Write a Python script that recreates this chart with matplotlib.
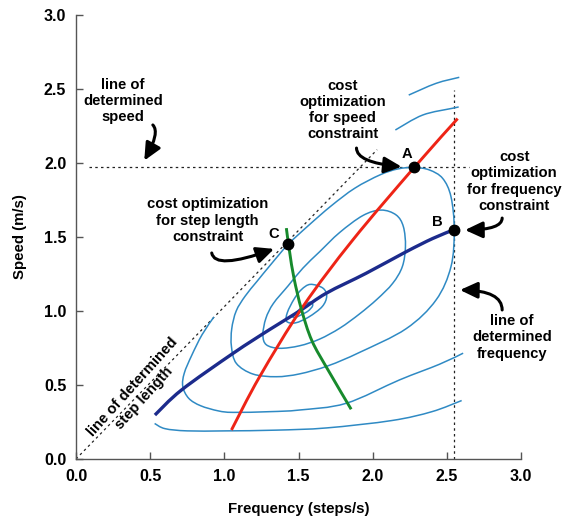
import matplotlib
matplotlib.use("Agg")
import matplotlib.pyplot as plt
import numpy as np
from matplotlib.path import Path
from matplotlib.patches import PathPatch

plt.rcParams['font.family'] = ['Liberation Sans', 'DejaVu Sans']
plt.rcParams['font.weight'] = 'bold'

# ---------------- data ----------------
# iso-cost contours (closed)
cont_a_x = [1.46, 1.50, 1.545, 1.585, 1.595, 1.565, 1.52, 1.48]
cont_a_y = [0.965, 1.005, 1.045, 1.06, 1.035, 1.00, 0.975, 0.958]

cont_b_x = [1.58, 1.664, 1.69, 1.66, 1.57, 1.48, 1.42, 1.425, 1.47, 1.52]
cont_b_y = [1.18, 1.155, 1.10, 1.03, 0.96, 0.92, 0.93, 0.99, 1.08, 1.145]

cont_c_x = [2.057, 2.158, 2.207, 2.221, 2.20, 2.135, 2.03, 1.911, 1.78, 1.642, 1.507, 1.373,
            1.283, 1.260, 1.28, 1.33, 1.43, 1.53, 1.642, 1.777, 1.934]
cont_c_y = [1.682, 1.649, 1.57, 1.435, 1.30, 1.187, 1.08, 0.98, 0.885, 0.81, 0.765, 0.748,
            0.772, 0.84, 0.95, 1.05, 1.17, 1.29, 1.40, 1.53, 1.645]

cont_d_x = [2.28, 2.382, 2.472, 2.528, 2.55, 2.528, 2.427, 2.225, 1.911, 1.70, 1.507, 1.350,
            1.193, 1.081, 1.048, 1.05, 1.08, 1.14, 1.22, 1.31, 1.43, 1.57, 1.72, 1.88, 2.05, 2.17]
cont_d_y = [1.97, 1.953, 1.896, 1.772, 1.55, 1.30, 1.074, 0.88, 0.72, 0.63, 0.575, 0.556,
            0.574, 0.646, 0.759, 0.88, 1.00, 1.10, 1.20, 1.31, 1.45, 1.58, 1.71, 1.83, 1.92, 1.96]

# open contour pieces
cont_e_low_x = [0.93, 0.85, 0.78, 0.73, 0.72, 0.76, 0.84, 0.96, 1.06, 1.31, 1.507, 1.82, 2.18, 2.45, 2.61]
cont_e_low_y = [0.96, 0.84, 0.70, 0.58, 0.49, 0.41, 0.36, 0.325, 0.315, 0.32, 0.331, 0.376, 0.534, 0.64, 0.715]
cont_e_top_x = [2.153, 2.337, 2.539, 2.58]
cont_e_top_y = [2.223, 2.324, 2.37, 2.378]

cont_f_low_x = [0.53, 0.60, 0.75, 1.01, 1.35, 1.69, 2.13, 2.40, 2.60]
cont_f_low_y = [0.24, 0.205, 0.19, 0.19, 0.195, 0.21, 0.26, 0.32, 0.395]
cont_f_top_x = [2.243, 2.427, 2.584]
cont_f_top_y = [2.459, 2.538, 2.579]

# optimal-parameter curves
red_x = [1.048, 1.238, 1.53, 1.866, 2.28, 2.573]
red_y = [0.196, 0.556, 1.03, 1.48, 1.97, 2.30]

navy_x = [0.532, 0.711, 1.059, 1.306, 1.507, 1.687, 1.956, 2.225, 2.405, 2.55]
navy_y = [0.297, 0.466, 0.714, 0.875, 1.00, 1.12, 1.255, 1.40, 1.49, 1.55]

green_x = [1.418, 1.44, 1.47, 1.52, 1.59, 1.70, 1.855]
green_y = [1.56, 1.40, 1.22, 1.01, 0.80, 0.60, 0.336]

# constraint lines
speed_level = 1.97
freq_level = 2.55
step_x = [0.0, 2.03]
step_y = [0.0, 2.09]

# optimum points
pt_names = ['A', 'B', 'C']
pt_x = [2.28, 2.55, 1.43]
pt_y = [1.97, 1.55, 1.45]

ticks = [0.0, 0.5, 1.0, 1.5, 2.0, 2.5, 3.0]
tick_labels = ['0.0', '0.5', '1.0', '1.5', '2.0', '2.5', '3.0']

# ---------------- drawing ----------------
def smooth_path(xs, ys, closed=False):
    P = np.column_stack([xs, ys]).astype(float)
    n = len(P)
    verts = [P[0]]
    codes = [Path.MOVETO]
    segs = n if closed else n - 1
    for i in range(segs):
        if closed:
            p0, p1, p2, p3 = P[(i - 1) % n], P[i], P[(i + 1) % n], P[(i + 2) % n]
        else:
            p0 = P[i - 1] if i > 0 else P[i]
            p1 = P[i]
            p2 = P[i + 1]
            p3 = P[i + 2] if i + 2 < n else P[i + 1]
        c1 = p1 + (p2 - p0) / 6.0
        c2 = p2 - (p3 - p1) / 6.0
        verts += [c1, c2, p2]
        codes += [Path.CURVE4] * 3
    return Path(verts, codes)

fig = plt.figure(figsize=(5.7, 5.18), dpi=100)
ax = fig.add_axes([76/570, 59/518, 445/570, 444/518])

def draw(xs, ys, color, lw, closed=False, z=2):
    patch = PathPatch(smooth_path(xs, ys, closed), facecolor='none', edgecolor=color,
                      lw=lw, zorder=z, capstyle='butt')
    ax.add_patch(patch)

cblue = '#2f8ac4'
for xs, ys, cl in [(cont_a_x, cont_a_y, True), (cont_b_x, cont_b_y, True),
                   (cont_c_x, cont_c_y, True), (cont_d_x, cont_d_y, True),
                   (cont_e_low_x, cont_e_low_y, False), (cont_e_top_x, cont_e_top_y, False),
                   (cont_f_low_x, cont_f_low_y, False), (cont_f_top_x, cont_f_top_y, False)]:
    draw(xs, ys, cblue, 1.1, cl)

draw(navy_x, navy_y, '#1c2b8c', 2.4, z=3)
draw(red_x, red_y, '#ee2416', 2.1, z=4)
draw(green_x, green_y, '#178a2c', 2.1, z=4)

dot = dict(color='#222222', lw=0.9, ls=(0, (2, 2.6)), zorder=1)
ax.plot([0.09, 2.65], [speed_level, speed_level], **dot)
ax.plot([freq_level, freq_level], [0.0, 2.49], **dot)
ax.plot(step_x, step_y, **dot)

ax.plot(pt_x, pt_y, 'o', color='black', ms=7.5, zorder=6)

ax.set_xlim(0, 3)
ax.set_ylim(0, 3)
ax.set_xticks(ticks)
ax.set_xticklabels(tick_labels)
ax.set_yticks(ticks)
ax.set_yticklabels(tick_labels)
for s in ['top', 'right']:
    ax.spines[s].set_visible(False)
for s in ['left', 'bottom']:
    ax.spines[s].set_color('#555555')
    ax.spines[s].set_linewidth(1.0)
ax.tick_params(direction='in', length=5, width=1.0, color='#555555', labelsize=11.5, pad=7)
for lab in ax.get_xticklabels() + ax.get_yticklabels():
    lab.set_fontweight('bold')
ax.set_xlabel('Frequency (steps/s)', fontsize=10.8, fontweight='bold', labelpad=13)
ax.set_ylabel('Speed (m/s)', fontsize=10.8, fontweight='bold', labelpad=12)

tk = dict(fontsize=10.6, fontweight='bold', ha='center', va='center', linespacing=1.2, zorder=7)
ax.text(0.316, 2.419, 'line of\ndetermined\nspeed', **tk)
ax.text(1.797, 2.358, 'cost\noptimization\nfor speed\nconstraint', **tk)
ax.text(2.954, 1.875, 'cost\noptimization\nfor frequency\nconstraint', **tk)
ax.text(0.888, 1.611, 'cost optimization\nfor step length\nconstraint', **tk)
ax.text(2.941, 0.821, 'line of\ndetermined\nfrequency', **tk)
ax.text(0.42, 0.45, 'line of determined\nstep length', rotation=48, rotation_mode='anchor', **tk)
ax.text(2.234, 2.06, 'A', **tk)
ax.text(2.436, 1.60, 'B', **tk)
ax.text(1.33, 1.52, 'C', **tk)

arr = dict(arrowstyle='-|>,head_length=0.75,head_width=0.35', color='black', lw=2.2,
           shrinkA=0, shrinkB=2, mutation_scale=14)
def hooked(start, end, angA, angB):
    ax.annotate('', xy=end, xytext=start,
                arrowprops=dict(connectionstyle=f'angle3,angleA={angA},angleB={angB}', **arr),
                zorder=8)

hooked((0.518, 2.257), (0.451, 2.0), -45, 60)
hooked((1.891, 2.101), (2.214, 1.973), -90, -5)
hooked((2.873, 1.628), (2.604, 1.547), -90, 0)
hooked((0.915, 1.392), (1.353, 1.426), -80, 20)
hooked((2.873, 1.007), (2.57, 1.142), 90, 0)

fig.savefig('out.png', dpi=100)
